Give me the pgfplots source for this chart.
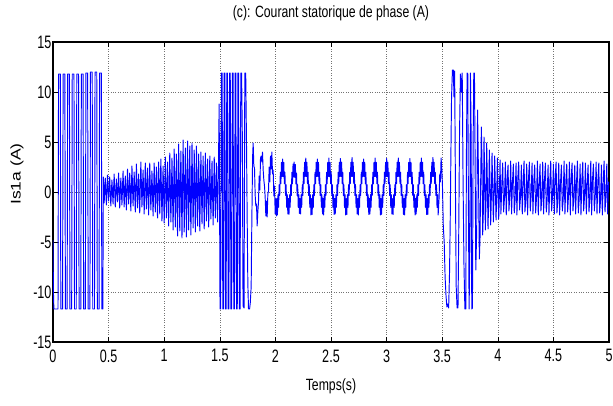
\documentclass[border=0pt]{standalone}
\usepackage{fontspec}
\setmainfont{Liberation Sans}
\newfontfamily\narrowfont{Liberation Sans}[FakeStretch=0.75]
\newfontfamily\tickfont{Liberation Sans}[FakeStretch=0.70]
\newfontfamily\ylabfont{Liberation Sans}[FakeStretch=1.25]
\usepackage{pgfplots}
\pgfplotsset{compat=1.18}

\begin{document}
\begin{tikzpicture}
\path[use as bounding box] (-53pt,-63pt) rectangle (560pt,342pt);
\begin{axis}[
  scale only axis,
  width=556pt, height=300pt,
  xmin=0, xmax=5, ymin=-15, ymax=15,
  xtick={0,0.5,1,1.5,2,2.5,3,3.5,4,4.5,5},
  xticklabels={0,0.5,1,1.5,2,2.5,3,3.5,4,4.5,5},
  ytick={-15,-10,-5,0,5,10,15},
  yticklabels={-15,-10,-5,0,5,10,15},
  xtick pos=both, ytick pos=both,
  tick align=inside, major tick length=5pt,
  tick style={black, line width=0.6pt},
  axis line style={line width=1.2pt},
  grid=major,
  major grid style={black!55, dotted, line width=0.5pt},
  tick label style={font=\fontsize{18}{20}\selectfont\tickfont},
  xticklabel style={yshift=-4pt},
  yticklabel style={xshift=2pt},
  title={(c): Courant statorique de phase (A)},
  title style={at={(0.5,1)}, anchor=base, yshift=18.5pt, inner sep=0pt,
    font=\fontsize{16.3}{18}\selectfont\narrowfont},
  xlabel={Temps(s)},
  xlabel style={at={(axis description cs:0.5,0)}, anchor=base, yshift=-48pt, inner sep=0pt,
    font=\fontsize{16.3}{18}\selectfont\narrowfont},
  ylabel={Is1a (A)},
  ylabel style={at={(axis description cs:-0.0647,0.56)}, anchor=center,
    font=\fontsize{14}{16}\selectfont\ylabfont},
]
\addplot[blue, line width=0.95pt, line join=round] coordinates {
% 0 - 0.45 s : saturation
(0,-4.8) (0.004,-10.0) (0.008,-11.7) (0.045,-11.7) (0.050,11.8) (0.0655,11.8) (0.0705,-11.7)
(0.086,-11.7) (0.091,11.8) (0.1065,11.8) (0.1115,-11.7) (0.127,-11.7) (0.132,11.8) (0.1475,11.8)
(0.1525,-11.7) (0.168,-11.7) (0.173,11.8) (0.1885,11.8) (0.1935,-11.7) (0.209,-11.7) (0.214,11.8)
(0.2295,11.8) (0.2345,-11.7) (0.250,-11.7) (0.255,11.8) (0.2705,11.8) (0.2755,-11.7) (0.291,-11.7)
(0.296,11.9) (0.3115,11.9) (0.3165,-11.7) (0.332,-11.7) (0.337,12.0) (0.3525,12.0) (0.3575,-11.7)
(0.373,-11.7) (0.378,12.0) (0.3935,12.0) (0.3985,-11.7) (0.414,-11.7) (0.419,11.9) (0.4345,11.9)
(0.4395,-11.7) (0.448,-11.7) (0.453,1.5)
% 0.45 - 1.5 s
(0.46,-1.1) (0.47,1.4) (0.48,-1.3) (0.49,1.7) (0.50,-0.9) (0.51,1.5) (0.52,-1.4) (0.53,1.2) (0.54,-1.2) (0.55,1.8)
(0.56,-1.5) (0.57,1.3) (0.58,-1.0) (0.59,1.9) (0.60,-1.6) (0.61,1.4) (0.62,-1.3) (0.63,2.1) (0.64,-1.5) (0.65,1.6)
(0.66,-1.8) (0.67,2.3) (0.68,-1.2) (0.69,1.9) (0.70,-1.9) (0.71,2.6) (0.72,-1.4) (0.73,2.0) (0.74,-2.0) (0.75,2.8)
(0.76,-1.6) (0.77,1.8) (0.78,-2.1) (0.79,3.0) (0.80,-1.5) (0.81,2.2) (0.82,-2.2) (0.83,2.9) (0.84,-1.7) (0.85,2.4)
(0.86,-2.3) (0.87,2.9) (0.88,-1.8) (0.89,2.1) (0.90,-2.4) (0.91,2.9) (0.92,-2.0) (0.93,2.5) (0.94,-2.6) (0.95,3.0)
(0.96,-2.2) (0.97,3.3) (0.98,-2.9) (0.99,2.6) (1.00,-3.1) (1.01,3.5) (1.02,-2.6) (1.03,3.0) (1.04,-3.4) (1.05,3.9)
(1.06,-3.0) (1.07,3.4) (1.08,-3.8) (1.09,4.3) (1.10,-3.5) (1.11,3.8) (1.12,-4.4) (1.13,4.8) (1.14,-3.9) (1.15,4.1)
(1.16,-4.6) (1.17,5.2) (1.18,-4.0) (1.19,4.4) (1.20,-4.5) (1.21,5.1) (1.22,-3.8) (1.23,4.6) (1.24,-4.3) (1.25,4.9)
(1.26,-3.6) (1.27,4.2) (1.28,-4.0) (1.29,4.6) (1.30,-3.4) (1.31,3.8) (1.32,-3.9) (1.33,4.0) (1.34,-3.2) (1.35,3.6)
(1.36,-3.7) (1.37,3.9) (1.38,-2.9) (1.39,3.3) (1.40,-3.5) (1.41,3.6) (1.42,-2.7) (1.43,3.1) (1.44,-3.3) (1.45,3.5)
(1.46,-2.6) (1.47,2.9) (1.48,-3.0)
% 1.5 - 1.8 s : saturation
(1.488,2.5) (1.494,8.8) (1.497,2.0) (1.502,-11.7) (1.508,-11.7) (1.514,11.9) (1.521,11.9) (1.527,-11.7)
(1.533,-11.7) (1.539,11.9) (1.545,11.9) (1.551,-11.7) (1.557,-11.7) (1.563,11.9) (1.569,11.9) (1.575,-11.7)
(1.582,-11.7) (1.588,11.9) (1.594,11.9) (1.600,-11.7) (1.607,-11.7) (1.613,11.9) (1.619,11.9) (1.626,-11.7)
(1.632,-11.7) (1.638,11.9) (1.644,11.9) (1.651,-11.7) (1.657,-11.7) (1.663,11.9) (1.669,11.9) (1.676,-11.7)
(1.682,-11.7) (1.689,11.9) (1.696,11.9) (1.703,5.2) (1.709,-11.4) (1.718,-11.6) (1.725,11.9) (1.733,11.9)
(1.740,5.0) (1.746,-2.5) (1.752,-9.0) (1.758,-11.7) (1.768,-11.7) (1.774,-11.1)
% 1.8 - 2.0 s
(1.782,-9.5) (1.788,-3.0) (1.795,3.5) (1.800,4.9) (1.806,2.6) (1.812,2.4) (1.818,-0.3) (1.824,-1.4)
(1.830,-1.2) (1.836,-3.4) (1.842,-2.0) (1.848,-1.0) (1.854,1.6) (1.860,0.2) (1.866,3.4) (1.872,3.6)
(1.878,3.0) (1.884,4.0) (1.890,2.2) (1.896,1.2) (1.902,0.6) (1.908,-0.5) (1.914,-2.4) (1.920,-0.9)
(1.926,-2.5) (1.932,-0.2) (1.938,0.1) (1.944,2.5) (1.950,1.0) (1.956,3.6) (1.962,2.3) (1.968,4.0)
(1.974,1.8) (1.980,2.2) (1.986,-0.4) (1.992,0.6) (1.998,-2.2) (2.004,-0.7) (2.008,-2.4)
% 2.0 - 3.5 s
(2.013,-0.65) (2.0182,-2.30) (2.0234,-0.27) (2.0286,-1.53) (2.0338,0.73) (2.039,-0.35) (2.0442,1.97) (2.0494,0.83) (2.0546,2.97) (2.0598,1.55)
(2.065,3.30) (2.0702,1.55) (2.0754,2.97) (2.0806,0.83) (2.0858,1.97) (2.091,-0.35) (2.0962,0.73) (2.1014,-1.53) (2.1066,-0.27) (2.1118,-2.20)
(2.117,-0.65) (2.1222,-2.25) (2.1274,-0.27) (2.1326,-1.53) (2.1378,0.73) (2.143,-0.35) (2.1482,1.97) (2.1534,0.83) (2.1586,2.80) (2.1638,1.50)
(2.169,3.00) (2.1742,1.45) (2.1794,2.75) (2.1846,0.80) (2.1898,1.90) (2.195,-0.35) (2.2002,0.73) (2.2054,-1.53) (2.2106,-0.27) (2.2158,-2.15)
(2.221,-0.65) (2.2262,-2.20) (2.2314,-0.27) (2.2366,-1.53) (2.2418,0.73) (2.247,-0.35) (2.2522,1.97) (2.2574,0.83) (2.2626,2.97) (2.2678,1.55)
(2.273,3.40) (2.2782,1.55) (2.2834,2.97) (2.2886,0.83) (2.2938,1.97) (2.299,-0.35) (2.3042,0.73) (2.3094,-1.53) (2.3146,-0.27) (2.3198,-2.30)
(2.325,-0.65) (2.3302,-2.25) (2.3354,-0.27) (2.3406,-1.53) (2.3458,0.73) (2.351,-0.35) (2.3562,1.97) (2.3614,0.83) (2.3666,2.97) (2.3718,1.55)
(2.377,3.30) (2.3822,1.55) (2.3874,2.97) (2.3926,0.83) (2.3978,1.97) (2.403,-0.35) (2.4082,0.73) (2.4134,-1.53) (2.4186,-0.27) (2.4238,-2.20)
(2.429,-0.65) (2.4342,-2.30) (2.4394,-0.27) (2.4446,-1.53) (2.4498,0.73) (2.455,-0.35) (2.4602,1.97) (2.4654,0.83) (2.4706,2.97) (2.4758,1.55)
(2.481,3.40) (2.4862,1.55) (2.4914,2.97) (2.4966,0.83) (2.5018,1.97) (2.507,-0.35) (2.5122,0.73) (2.5174,-1.53) (2.5226,-0.27) (2.5278,-2.25)
(2.533,-0.65) (2.5382,-2.20) (2.5434,-0.27) (2.5486,-1.53) (2.5538,0.73) (2.559,-0.35) (2.5642,1.97) (2.5694,0.83) (2.5746,2.97) (2.5798,1.55)
(2.585,3.35) (2.5902,1.55) (2.5954,2.97) (2.6006,0.83) (2.6058,1.97) (2.611,-0.35) (2.6162,0.73) (2.6214,-1.53) (2.6266,-0.27) (2.6318,-2.30)
(2.637,-0.65) (2.6422,-2.25) (2.6474,-0.27) (2.6526,-1.53) (2.6578,0.73) (2.663,-0.35) (2.6682,1.97) (2.6734,0.83) (2.6786,2.97) (2.6838,1.55)
(2.689,3.45) (2.6942,1.55) (2.6994,2.97) (2.7046,0.83) (2.7098,1.97) (2.715,-0.35) (2.7202,0.73) (2.7254,-1.53) (2.7306,-0.27) (2.7358,-2.20)
(2.741,-0.65) (2.7462,-2.30) (2.7514,-0.27) (2.7566,-1.53) (2.7618,0.73) (2.767,-0.35) (2.7722,1.97) (2.7774,0.83) (2.7826,2.97) (2.7878,1.55)
(2.793,3.30) (2.7982,1.55) (2.8034,2.97) (2.8086,0.83) (2.8138,1.97) (2.819,-0.35) (2.8242,0.73) (2.8294,-1.53) (2.8346,-0.27) (2.8398,-2.25)
(2.845,-0.65) (2.8502,-2.20) (2.8554,-0.27) (2.8606,-1.53) (2.8658,0.73) (2.871,-0.35) (2.8762,1.97) (2.8814,0.83) (2.8866,2.97) (2.8918,1.55)
(2.897,3.40) (2.9022,1.55) (2.9074,2.97) (2.9126,0.83) (2.9178,1.97) (2.923,-0.35) (2.9282,0.73) (2.9334,-1.53) (2.9386,-0.27) (2.9438,-2.30)
(2.949,-0.65) (2.9542,-2.25) (2.9594,-0.27) (2.9646,-1.53) (2.9698,0.73) (2.975,-0.35) (2.9802,1.97) (2.9854,0.83) (2.9906,2.97) (2.9958,1.55)
(3.001,3.35) (3.0062,1.55) (3.0114,2.97) (3.0166,0.83) (3.0218,1.97) (3.027,-0.35) (3.0322,0.73) (3.0374,-1.53) (3.0426,-0.27) (3.0478,-2.20)
(3.053,-0.65) (3.0582,-2.25) (3.0634,-0.27) (3.0686,-1.53) (3.0738,0.73) (3.079,-0.35) (3.0842,1.97) (3.0894,0.83) (3.0946,2.97) (3.0998,1.55)
(3.105,3.40) (3.1102,1.55) (3.1154,2.97) (3.1206,0.83) (3.1258,1.97) (3.131,-0.35) (3.1362,0.73) (3.1414,-1.53) (3.1466,-0.27) (3.1518,-2.25)
(3.157,-0.65) (3.1622,-2.30) (3.1674,-0.27) (3.1726,-1.53) (3.1778,0.73) (3.183,-0.35) (3.1882,1.97) (3.1934,0.83) (3.1986,2.97) (3.2038,1.55)
(3.209,3.35) (3.2142,1.55) (3.2194,2.97) (3.2246,0.83) (3.2298,1.97) (3.235,-0.35) (3.2402,0.73) (3.2454,-1.53) (3.2506,-0.27) (3.2558,-2.30)
(3.261,-0.65) (3.2662,-2.20) (3.2714,-0.27) (3.2766,-1.53) (3.2818,0.73) (3.287,-0.35) (3.2922,1.97) (3.2974,0.83) (3.3026,2.97) (3.3078,1.55)
(3.313,3.40) (3.3182,1.55) (3.3234,2.97) (3.3286,0.83) (3.3338,1.97) (3.339,-0.35) (3.3442,0.73) (3.3494,-1.53) (3.3546,-0.27) (3.3598,-2.25)
(3.365,-0.65) (3.3702,-2.25) (3.3754,-0.27) (3.3806,-1.53) (3.3858,0.73) (3.391,-0.35) (3.3962,1.97) (3.4014,0.83) (3.4066,2.97) (3.4118,1.55)
(3.417,3.45) (3.4222,1.55) (3.4274,2.97) (3.4326,0.83) (3.4378,1.97) (3.443,-0.35) (3.4482,0.73) (3.4534,-1.53) (3.4586,-0.27) (3.4638,-2.30)
(3.472,-0.6) (3.478,1.8) (3.484,1.0) (3.490,3.4) (3.496,2.4)
% 3.5 - 4.0 s : saturation and decay
(3.502,0.8) (3.510,-3.5) (3.518,-5.0) (3.526,-8.5) (3.534,-10.3) (3.542,-11.5) (3.550,-11.2) (3.558,-11.6)
(3.566,-8.0) (3.572,-3.0) (3.578,3.6) (3.584,9.5) (3.592,12.2) (3.600,12.2) (3.606,9.5) (3.612,12.1)
(3.618,2.0) (3.626,-9.5) (3.634,-11.6) (3.642,-11.6) (3.648,-5.0) (3.656,6.0) (3.664,11.8) (3.672,10.0)
(3.680,11.9) (3.688,0.6) (3.696,-7.5) (3.704,-11.7) (3.712,-11.7) (3.718,4.0) (3.724,11.9) (3.730,11.8)
(3.736,-2.0) (3.742,-11.7) (3.748,-6.0) (3.754,11.9) (3.760,6.0) (3.766,-11.7) (3.772,-11.6) (3.778,5.0)
(3.784,11.9) (3.790,11.9) (3.796,3.0) (3.802,-7.8) (3.810,-4.0) (3.818,8.2) (3.826,2.0) (3.834,-6.7)
(3.840,-4.7) (3.846,1.0) (3.852,6.5) (3.858,3.0) (3.864,-4.3) (3.870,-2.0) (3.876,5.5) (3.882,1.5)
(3.888,-3.8) (3.894,-1.0) (3.900,4.9) (3.906,1.0) (3.912,-3.7) (3.918,-0.8) (3.924,4.2) (3.930,0.8)
(3.936,-3.3) (3.942,-0.5) (3.948,3.9) (3.954,0.6) (3.960,-3.0) (3.966,-0.4) (3.972,3.6) (3.978,0.5)
(3.984,-2.8) (3.990,-0.6) (3.996,3.4) (4.002,0.3) (4.008,-2.7) (4.014,-0.4) (4.020,3.2)
% 4.0 - 5.0 s
(4.028,-2.2) (4.036,0.8) (4.044,2.9) (4.052,-2.0) (4.060,-0.6) (4.068,3.0) (4.076,-2.3) (4.084,1.2) (4.092,2.7)
(4.100,-1.9) (4.108,-0.4) (4.116,3.1) (4.124,-2.2) (4.132,1.0) (4.140,2.8) (4.148,-2.1) (4.156,-0.7) (4.164,2.9)
(4.172,-2.3) (4.180,1.4) (4.188,3.0) (4.196,-1.8) (4.204,-0.5) (4.212,2.7) (4.220,-2.2) (4.228,0.9) (4.236,3.1)
(4.244,-2.0) (4.252,-0.8) (4.260,2.8) (4.268,-2.3) (4.276,1.3) (4.284,3.0) (4.292,-1.9) (4.300,-0.3) (4.308,2.9)
(4.316,-2.2) (4.324,1.1) (4.332,2.7) (4.340,-2.1) (4.348,-0.6) (4.356,3.1) (4.364,-2.3) (4.372,0.8) (4.380,2.8)
(4.388,-1.9) (4.396,-0.5) (4.404,3.0) (4.412,-2.2) (4.420,1.2) (4.428,2.9) (4.436,-2.0) (4.444,-0.7) (4.452,2.7)
(4.460,-2.3) (4.468,1.0) (4.476,3.1) (4.484,-1.9) (4.492,-0.4) (4.500,2.8) (4.508,-2.2) (4.516,1.3) (4.524,3.0)
(4.532,-2.1) (4.540,-0.6) (4.548,2.9) (4.556,-2.3) (4.564,0.9) (4.572,2.7) (4.580,-1.9) (4.588,-0.8) (4.596,3.1)
(4.604,-2.2) (4.612,1.1) (4.620,2.8) (4.628,-2.0) (4.636,-0.3) (4.644,3.0) (4.652,-2.3) (4.660,1.4) (4.668,2.9)
(4.676,-1.9) (4.684,-0.5) (4.692,2.7) (4.700,-2.2) (4.708,1.0) (4.716,3.1) (4.724,-2.1) (4.732,-0.7) (4.740,2.8)
(4.748,-2.3) (4.756,1.2) (4.764,3.0) (4.772,-1.9) (4.780,-0.4) (4.788,2.9) (4.796,-2.2) (4.804,0.8) (4.812,2.7)
(4.820,-2.0) (4.828,-0.6) (4.836,3.1) (4.844,-2.3) (4.852,1.3) (4.860,2.8) (4.868,-1.9) (4.876,-0.5) (4.884,3.0)
(4.892,-2.2) (4.900,1.1) (4.908,2.9) (4.916,-2.1) (4.924,-0.8) (4.932,2.7) (4.940,-2.3) (4.948,0.9) (4.956,3.1)
(4.964,-2.0) (4.972,-0.4) (4.980,2.8) (4.988,-2.2) (4.996,1.0) (5.000,0.4)
};
\end{axis}
\end{tikzpicture}
\end{document}
